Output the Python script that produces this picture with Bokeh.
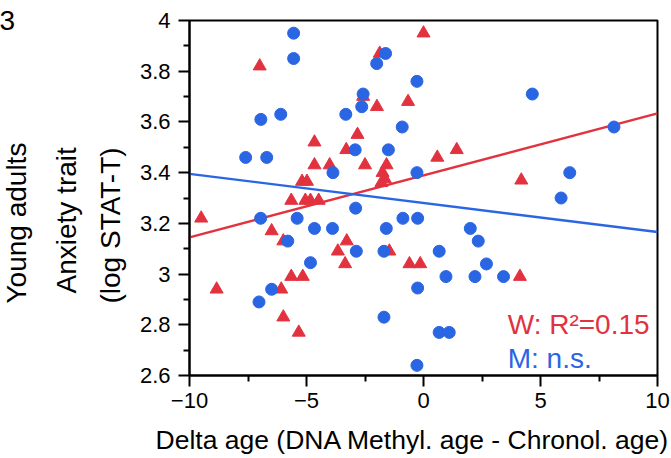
from bokeh.plotting import figure
from bokeh.models import FixedTicker, Label, Range1d, Title
from bokeh.embed import file_html
from bokeh.resources import INLINE

# W (women): red triangles
w_delta = [-7.0, -4.66, -3.3, -4.66, -4.01, -5.19, -4.98, -5.65, -5.05, -4.83, -4.48,
           -9.5, -6.49, -5.99, -5.65, -5.16, -8.84, -6.08, -5.99, -5.33, -3.66, -3.35,
           -3.28, -1.46, -0.6, -0.14, 0.0, -1.87, -2.58, -1.99, -0.66, -2.82, -2.5,
           -1.58, 0.59, 1.42, -1.75, -1.65, -1.8, 4.18, 4.12]
w_anx = [3.82, 3.52, 3.49, 3.43, 3.43, 3.365, 3.365, 3.29, 3.29, 3.29, 3.29,
         3.22, 3.17, 3.13, 2.99, 2.99, 2.94, 2.94, 2.83, 2.77, 3.09, 3.04,
         3.13, 3.09, 3.04, 3.04, 3.95, 3.87, 3.70, 3.66, 3.68, 3.55, 3.43,
         3.43, 3.46, 3.49, 3.40, 3.375, 3.36, 3.37, 2.99]

# M (men): blue circles
m_delta = [-5.55, -5.55, -6.1, -6.95, -7.6, -6.7, -3.87, -1.62, -2.0, -0.28, -2.58,
           -2.64, -3.32, -0.91, -2.92, -1.5, -0.28, 4.65, 8.14, 6.25, 5.88, 2.0,
           2.34, 2.69, 2.2, 3.42, -2.9, -3.89, -0.88, -0.25, -1.59, -2.87, -1.69,
           0.67, 0.96, -0.25, -1.69, 0.67, 1.1, -0.28, -6.96, -5.4, -4.66, -5.8,
           -4.83, -6.49, -7.03]
m_anx = [3.95, 3.85, 3.63, 3.61, 3.46, 3.46, 3.40, 3.87, 3.83, 3.76, 3.71,
         3.66, 3.63, 3.58, 3.49, 3.49, 3.40, 3.71, 3.58, 3.40, 3.30, 3.18,
         3.13, 3.04, 2.99, 2.99, 3.26, 3.18, 3.22, 3.22, 3.18, 3.09, 3.09,
         3.09, 2.99, 2.945, 2.83, 2.77, 2.77, 2.64, 3.22, 3.22, 3.18, 3.13,
         3.045, 2.94, 2.89]

fit_x = [-10, 10]
w_fit = [3.145, 3.634]
m_fit = [3.395, 3.166]

xticks = [-10, -5, 0, 5, 10]
xminor = [-7.5, -2.5, 2.5, 7.5]
yticks = [2.6, 2.8, 3.0, 3.2, 3.4, 3.6, 3.8, 4.0]
ytick_labels = ["2.6", "2.8", "3", "3.2", "3.4", "3.6", "3.8", "4"]
yminor = [2.7, 2.9, 3.1, 3.3, 3.5, 3.7, 3.9]

RED = "#E3323F"
BLUE = "#2A66E3"
FONT = "Liberation Sans"

p = figure(width=671, height=458, output_backend="svg", toolbar_location=None,
           x_range=Range1d(-10, 10), y_range=Range1d(2.6, 4.0),
           min_border_top=20, min_border_right=14, min_border_left=186, min_border_bottom=83)
p.grid.visible = False
p.outline_line_color = "black"
p.outline_line_width = 2
p.outline_line_alpha = 1

p.xaxis.ticker = FixedTicker(ticks=xticks, minor_ticks=xminor)
p.yaxis.ticker = FixedTicker(ticks=yticks, minor_ticks=yminor)
p.yaxis.major_label_overrides = {t: l for t, l in zip(yticks, ytick_labels)}

for ax in (p.xaxis, p.yaxis):
    ax.axis_line_width = 2
    ax.axis_line_color = "black"
    ax.major_tick_line_width = 2
    ax.minor_tick_line_width = 2
    ax.major_tick_out = 11
    ax.major_tick_in = 0
    ax.minor_tick_out = 6
    ax.minor_tick_in = 0
    ax.major_label_text_font = FONT
    ax.major_label_text_font_size = "22px"
    ax.major_label_text_color = "black"
    # blank spacer label: only pads the axis panel
    ax.axis_label = " "
    ax.axis_label_text_font_size = "1px"

p.xaxis.major_label_standoff = 6
p.yaxis.major_label_standoff = 8
p.yaxis.axis_label_standoff = 15
p.xaxis.axis_label_standoff = 8


def side_title(text, size, standoff, offset=0, align="left"):
    return Title(text=text, align=align, offset=offset, standoff=standoff,
                 text_font=FONT, text_font_size=size, text_font_style="normal",
                 text_color="black")


# y-axis titles, nearest the frame first (offset shifts up from frame bottom)
p.add_layout(side_title("(log STAT-T)", "28px", -16, offset=72), "left")
p.add_layout(side_title("Anxiety trait", "28px", 38, offset=82), "left")
p.add_layout(side_title("Young adults", "28px", -4, offset=72), "left")
# x-axis title
p.add_layout(side_title("Delta age (DNA Methyl. age - Chronol. age)", "26.5px", 0, offset=-34), "below")
# panel letter fragment
p.add_layout(side_title("3", "28px", -18, offset=-190), "above")

p.line(fit_x, w_fit, line_color=RED, line_width=2.4)
p.line(fit_x, m_fit, line_color=BLUE, line_width=2.4)
p.scatter(w_delta, w_anx, marker="triangle", size=13, fill_color=RED, line_color=RED)
p.scatter(m_delta, m_anx, marker="circle", size=12, fill_color=BLUE, line_color=BLUE)

p.add_layout(Label(x=3.6, y=2.80, text="W: R²=0.15", text_color=RED, text_font=FONT,
                   text_font_size="28px", text_baseline="alphabetic"))
p.add_layout(Label(x=3.6, y=2.667, text="M: n.s.", text_color=BLUE, text_font=FONT,
                   text_font_size="28px", text_baseline="alphabetic"))

open("out.html", "w").write(file_html(p, INLINE))
